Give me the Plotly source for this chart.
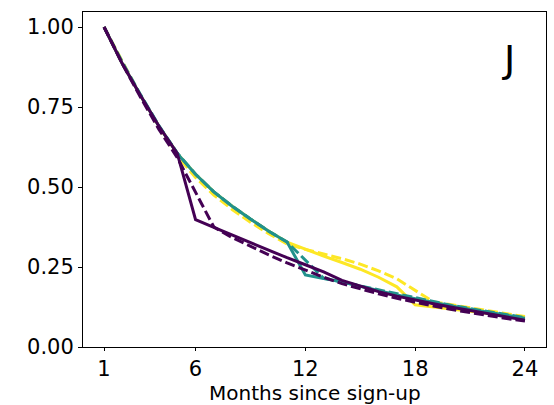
import plotly.graph_objects as go

months = list(range(1, 25))

purple_solid = [1.000, 0.885, 0.785, 0.690, 0.605, 0.398, 0.374, 0.350, 0.326, 0.302, 0.279, 0.257,
                0.235, 0.208, 0.190, 0.173, 0.159, 0.146, 0.135, 0.124, 0.114, 0.104, 0.094, 0.084]
purple_dashed = [1.000, 0.885, 0.780, 0.680, 0.592, 0.483, 0.375, 0.342, 0.314, 0.288, 0.263, 0.240,
                 0.218, 0.198, 0.181, 0.166, 0.152, 0.139, 0.128, 0.117, 0.107, 0.098, 0.089, 0.081]
teal_solid = [1.000, 0.885, 0.785, 0.690, 0.605, 0.540, 0.485, 0.440, 0.400, 0.362, 0.328, 0.225,
              0.214, 0.204, 0.190, 0.176, 0.163, 0.151, 0.139, 0.128, 0.118, 0.108, 0.099, 0.090]
teal_dashed = [1.000, 0.890, 0.788, 0.692, 0.606, 0.540, 0.485, 0.440, 0.400, 0.362, 0.328, 0.270,
               0.215, 0.203, 0.191, 0.178, 0.165, 0.153, 0.141, 0.130, 0.120, 0.110, 0.101, 0.092]
yellow_solid = [1.000, 0.885, 0.785, 0.690, 0.605, 0.540, 0.485, 0.440, 0.400, 0.362, 0.328, 0.305,
                0.284, 0.264, 0.243, 0.218, 0.188, 0.132, 0.126, 0.119, 0.112, 0.105, 0.098, 0.091]
yellow_dashed = [1.000, 0.890, 0.785, 0.685, 0.597, 0.530, 0.475, 0.430, 0.390, 0.354, 0.322, 0.305,
                 0.291, 0.276, 0.259, 0.238, 0.213, 0.177, 0.141, 0.132, 0.122, 0.113, 0.104, 0.095]

x_ticks = [1, 6, 12, 18, 24]
y_ticks = [0.0, 0.25, 0.5, 0.75, 1.0]
y_tick_labels = ["0.00", "0.25", "0.50", "0.75", "1.00"]
x_title = "Months since sign-up"
panel_label = "J"

PURPLE = "#440154"
TEAL = "#21918c"
YELLOW = "#fde725"
DASH = "10px,4px"
LW = 3

series = [
    (yellow_solid, YELLOW, "solid"),
    (yellow_dashed, YELLOW, DASH),
    (teal_solid, TEAL, "solid"),
    (teal_dashed, TEAL, DASH),
    (purple_dashed, PURPLE, DASH),
    (purple_solid, PURPLE, "solid"),
]

fig = go.Figure()
for vals, col, dash in series:
    fig.add_trace(go.Scatter(x=months, y=vals, mode="lines",
                             line=dict(color=col, width=LW, dash=dash),
                             showlegend=False, hoverinfo="skip"))

axis_common = dict(showgrid=False, zeroline=False, showline=True, linecolor="black",
                   linewidth=1, mirror=True, ticks="outside", ticklen=4, tickwidth=1,
                   tickcolor="black", tickfont=dict(size=21, color="black"), automargin=False)

fig.update_xaxes(range=[-0.15, 25.15], tickvals=x_ticks, ticktext=[str(v) for v in x_ticks],
                 ticklen=3, **{k: v for k, v in axis_common.items() if k != "ticklen"})
fig.update_yaxes(range=[0, 1.047], tickvals=y_ticks, ticktext=y_tick_labels, **axis_common)

fig.add_annotation(text=x_title, xref="paper", yref="paper", x=0.5, y=-0.137,
                   xanchor="center", yanchor="middle", showarrow=False,
                   font=dict(size=20, color="black"))

fig.add_annotation(text=panel_label, xref="paper", yref="paper", x=0.92, y=0.86,
                   xanchor="center", yanchor="middle", showarrow=False,
                   font=dict(size=38, color="black"))

fig.update_layout(width=554, height=405, margin=dict(l=83, r=8, t=12, b=58),
                  paper_bgcolor="white", plot_bgcolor="white",
                  font=dict(family="DejaVu Sans", color="black"))

fig.write_html("out.html")
